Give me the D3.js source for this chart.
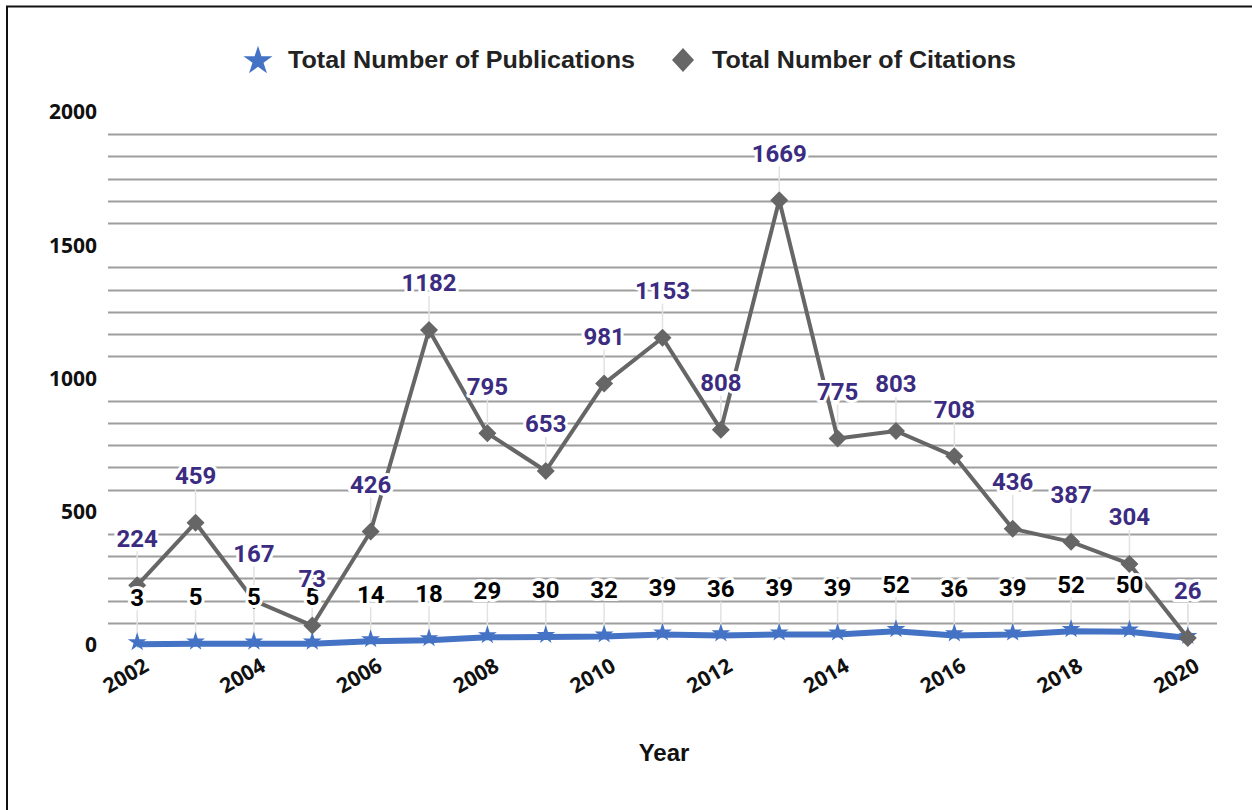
<!DOCTYPE html>
<html>
<head>
<meta charset="utf-8">
<script src="https://cdn.jsdelivr.net/npm/d3@7"></script>
<style>
  body { margin: 0; background: #fff; }
  svg { display: block; }
  .ytick { font-family: "Open Sans", sans-serif; font-weight: 700; font-size: 21px; fill: #111; }
  .xtick { font-family: "Open Sans", sans-serif; font-weight: 700; font-size: 21px; fill: #111; }
  .legend { font-family: "Liberation Sans", Arial, sans-serif; font-weight: 700; font-size: 23px; fill: #222; }
  .title { font-family: "Liberation Sans", Arial, sans-serif; font-weight: 700; font-size: 24px; fill: #111; }
  .lbl { font-family: Roboto, sans-serif; font-weight: 700; font-size: 24px;
         stroke: #fff; stroke-width: 6px; stroke-linejoin: round; paint-order: stroke; }
</style>
</head>
<body>
<svg id="chart"></svg>
<script>
// data
var years = ["2002","2003","2004","2005","2006","2007","2008","2009","2010","2011",
             "2012","2013","2014","2015","2016","2017","2018","2019","2020"];
var publications = [3,5,5,5,14,18,29,30,32,39,36,39,39,52,36,39,52,50,26];
var citations = [224,459,167,73,426,1182,795,653,981,1153,808,1669,775,803,708,436,387,304,26];
var yTicks = [0,500,1000,1500,2000];
var xTickYears = ["2002","2004","2006","2008","2010","2012","2014","2016","2018","2020"];
var seriesNames = ["Total Number of Publications","Total Number of Citations"];

var screen = {width:1252,height:810}
var plot = {left:108,right:1217,top:112,bottom:645}

var blue = "#4472c4";
var gray = "#666666";
var purple = "#3b2c82";

var svg = d3.select("#chart")
  .attr("width",screen.width)
  .attr("height",screen.height)

// frame (only top and left edges show in the picture)
svg.append("path")
  .attr("d","M7,812 L7,6.5 L1260,6.5")
  .attr("fill","none")
  .attr("stroke","#111")
  .attr("stroke-width",2)

var xScale = d3.scalePoint()
  .domain(years)
  .range([plot.left,plot.right])
  .padding(0.5)

var yScale = d3.scaleLinear()
  .domain([0,2000])
  .range([plot.bottom,plot.top])

// minor gridlines only, every 500/6, the major ones are not drawn
var minor = d3.range(1,24).map(function(i){ return i*500/6; })
  .filter(function(v,i){ return (i+1)%6!=0; })

svg.append("g")
  .selectAll("line")
  .data(minor)
  .enter()
  .append("line")
  .attr("x1",plot.left)
  .attr("x2",plot.right)
  .attr("y1",function(v){ return Math.round(yScale(v))+0.5; })
  .attr("y2",function(v){ return Math.round(yScale(v))+0.5; })
  .attr("stroke","#9e9e9e")
  .attr("stroke-width",2)

// y labels
svg.append("g")
  .selectAll("text")
  .data(yTicks)
  .enter()
  .append("text")
  .classed("ytick",true)
  .attr("x",97)
  .attr("y",function(v){ return yScale(v); })
  .attr("dy","0.35em")
  .attr("text-anchor","end")
  .text(function(v){ return v; })

// x labels, rotated
svg.append("g")
  .selectAll("text")
  .data(xTickYears)
  .enter()
  .append("text")
  .classed("xtick",true)
  .attr("text-anchor","end")
  .attr("transform",function(y){
    return "translate("+(xScale(y)+13)+",670) rotate(-30)";
  })
  .text(function(y){ return y; })

svg.append("text")
  .classed("title",true)
  .attr("x",664)
  .attr("y",761)
  .attr("text-anchor","middle")
  .text("Year")

var pubRows = years.map(function(y,i){ return {year:y,value:publications[i]}; })
var citRows = years.map(function(y,i){ return {year:y,value:citations[i]}; })

// leader lines from labels down to the markers
var leaders = svg.append("g")
  .attr("stroke","#e2e2e2")
  .attr("stroke-width",1.5)
leaders.selectAll("line.pub")
  .data(pubRows)
  .enter()
  .append("line")
  .attr("x1",function(d){ return xScale(d.year); })
  .attr("x2",function(d){ return xScale(d.year); })
  .attr("y1",function(d){ return yScale(d.value)-34; })
  .attr("y2",function(d){ return yScale(d.value)-6; })
leaders.selectAll("line.cit")
  .data(citRows)
  .enter()
  .append("line")
  .attr("x1",function(d){ return xScale(d.year); })
  .attr("x2",function(d){ return xScale(d.year); })
  .attr("y1",function(d){ return yScale(d.value)-34; })
  .attr("y2",function(d){ return yScale(d.value)-9; })

var line = d3.line()
  .x(function(d){ return xScale(d.year); })
  .y(function(d){ return yScale(d.value); })

svg.append("path")
  .datum(pubRows)
  .attr("d",line)
  .attr("fill","none")
  .attr("stroke",blue)
  .attr("stroke-width",6)
  .attr("stroke-linejoin","round")

var star = d3.symbol().type(d3.symbolStar).size(110)
svg.append("g")
  .selectAll("path")
  .data(pubRows)
  .enter()
  .append("path")
  .attr("d",star)
  .attr("fill",blue)
  .attr("transform",function(d){
    return "translate("+xScale(d.year)+","+(yScale(d.value)-2)+")";
  })

svg.append("path")
  .datum(citRows)
  .attr("d",line)
  .attr("fill","none")
  .attr("stroke",gray)
  .attr("stroke-width",4)
  .attr("stroke-linejoin","round")

var diamond = "M0,-9L9,0L0,9L-9,0Z";
svg.append("g")
  .selectAll("path")
  .data(citRows)
  .enter()
  .append("path")
  .attr("d",diamond)
  .attr("fill",gray)
  .attr("transform",function(d){
    return "translate("+xScale(d.year)+","+yScale(d.value)+")";
  })

// data labels
svg.append("g")
  .selectAll("text")
  .data(pubRows)
  .enter()
  .append("text")
  .classed("lbl",true)
  .attr("fill","#000")
  .attr("x",function(d){ return xScale(d.year); })
  .attr("y",function(d){ return yScale(d.value)-47; })
  .attr("dy","0.35em")
  .attr("text-anchor","middle")
  .text(function(d){ return d.value; })

svg.append("g")
  .selectAll("text")
  .data(citRows)
  .enter()
  .append("text")
  .classed("lbl",true)
  .attr("fill",purple)
  .attr("x",function(d){ return xScale(d.year); })
  .attr("y",function(d){ return yScale(d.value)-47; })
  .attr("dy","0.35em")
  .attr("text-anchor","middle")
  .text(function(d){ return d.value; })

// legend
var legend = svg.append("g")
legend.append("path")
  .attr("d",d3.symbol().type(d3.symbolStar).size(260))
  .attr("fill",blue)
  .attr("transform","translate(258,61)")
legend.append("text")
  .classed("legend",true)
  .attr("x",288)
  .attr("y",60)
  .attr("dy","0.35em")
  .attr("textLength",347)
  .attr("lengthAdjust","spacingAndGlyphs")
  .text(seriesNames[0])
legend.append("path")
  .attr("d","M0,-12L11,0L0,12L-11,0Z")
  .attr("fill",gray)
  .attr("transform","translate(683,60)")
legend.append("text")
  .classed("legend",true)
  .attr("x",712)
  .attr("y",60)
  .attr("dy","0.35em")
  .attr("textLength",304)
  .attr("lengthAdjust","spacingAndGlyphs")
  .text(seriesNames[1])
</script>
</body>
</html>
